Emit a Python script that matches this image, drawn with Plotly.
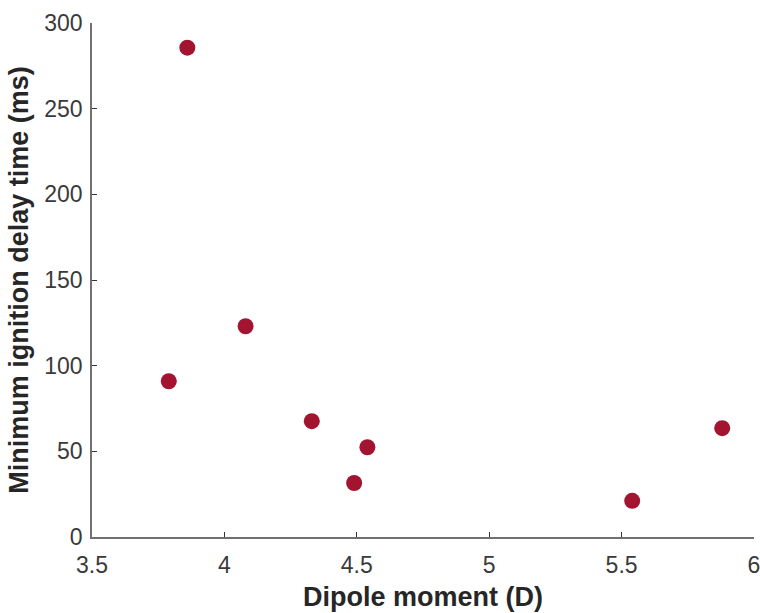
import plotly.graph_objects as go

dipole_moment = [3.86, 3.79, 4.08, 4.33, 4.54, 4.49, 5.54, 5.88]
ignition_delay = [285.6, 90.9, 123.0, 67.6, 52.4, 31.5, 21.1, 63.5]

x_ticks = [3.5, 4, 4.5, 5, 5.5, 6]
x_tick_labels = ["3.5", "4", "4.5", "5", "5.5", "6"]
y_ticks = [0, 50, 100, 150, 200, 250, 300]

fig = go.Figure()
fig.add_trace(go.Scatter(
    x=dipole_moment, y=ignition_delay, mode="markers",
    marker=dict(size=16, color="#A2142F", line=dict(width=0)),
    showlegend=False, cliponaxis=False,
))

axis_font = dict(family="Liberation Sans, Arial, sans-serif", size=23, color="#3a3a3a")
title_font = dict(family="Liberation Sans, Arial, sans-serif", size=27, color="#262626")

fig.update_layout(
    width=760, height=613,
    margin=dict(l=91.5, r=6, t=22.5, b=76, autoexpand=False),
    paper_bgcolor="white", plot_bgcolor="white",
    xaxis=dict(
        range=[3.5, 6], tickvals=x_ticks, ticktext=x_tick_labels,
        showgrid=False, zeroline=False, automargin=False,
        showline=True, linecolor="#707070", linewidth=1.5,
        ticks="inside", ticklen=5, tickcolor="#333333", tickwidth=1,
        tickfont=axis_font, ticklabelstandoff=7, ticklabeloverflow="allow",
        title=dict(text="<b>Dipole moment (D)</b>", font=title_font, standoff=10),
    ),
    yaxis=dict(
        range=[0, 300], tickvals=y_ticks,
        showgrid=False, zeroline=False, automargin=False,
        showline=True, linecolor="#707070", linewidth=1.5,
        ticks="inside", ticklen=5, tickcolor="#333333", tickwidth=1,
        tickfont=axis_font, ticklabelstandoff=3, ticklabeloverflow="allow",
        title=dict(text="<b>Minimum ignition delay time (ms)</b>", font=title_font, standoff=8),
    ),
)

fig.write_html(
    "out.html",
    config={"displayModeBar": False},
    post_script="document.body.style.margin='0';document.body.style.overflow='hidden';",
)
